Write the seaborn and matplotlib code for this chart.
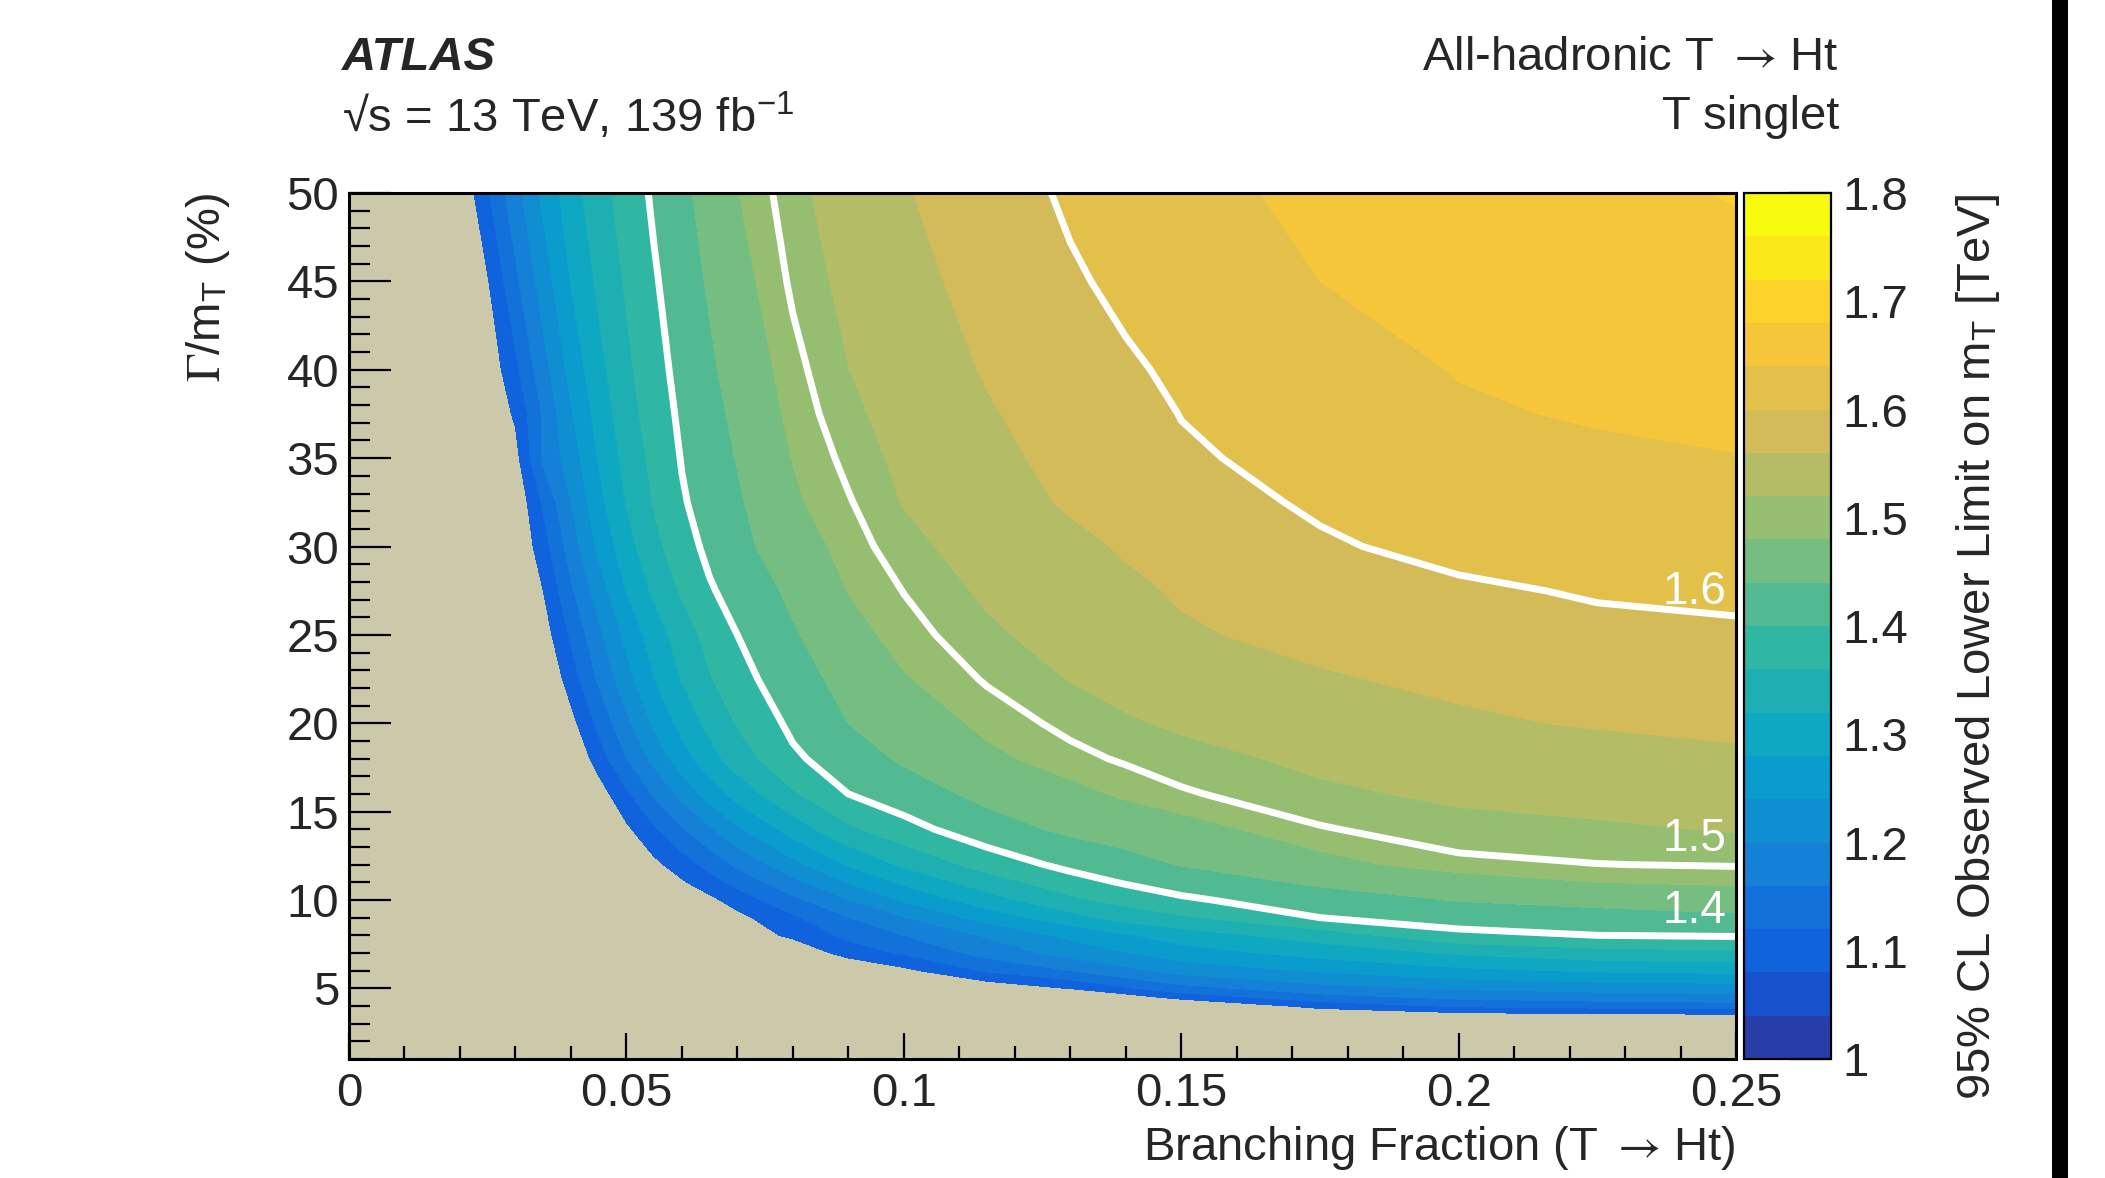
import numpy as np
import matplotlib
matplotlib.use("Agg")
import matplotlib.pyplot as plt
from matplotlib.colors import ListedColormap, BoundaryNorm
from matplotlib.cm import ScalarMappable
from matplotlib.patches import Rectangle
from matplotlib.ticker import MultipleLocator
import seaborn as sns

# Branching fraction (T -> Ht), columns of the limit table
branching = [0.0, 0.02, 0.025, 0.03, 0.035, 0.04, 0.045, 0.05, 0.055, 0.06, 0.065,
             0.07, 0.08, 0.09, 0.10, 0.115, 0.13, 0.14, 0.15, 0.175, 0.20, 0.225, 0.25]

# Gamma / m_T in percent, rows of the limit table
width_pct = [1, 3, 3.5, 4, 4.5, 5, 6, 7, 8, 9, 10, 11, 12, 14, 16, 18, 20,
             22.5, 25, 27.5, 30, 32.5, 35, 37.5, 40, 45, 50]

# 95% CL observed lower limit on m_T [TeV] (one row per width)
limit_tev = [
    [0.70, 0.72, 0.72, 0.73, 0.73, 0.74, 0.74, 0.75, 0.755, 0.76, 0.765, 0.77, 0.78, 0.79, 0.80, 0.82, 0.84, 0.85, 0.86, 0.88, 0.90, 0.91, 0.92],
    [0.70, 0.75, 0.76, 0.77, 0.78, 0.79, 0.80, 0.81, 0.82, 0.83, 0.84, 0.85, 0.87, 0.89, 0.91, 0.93, 0.95, 0.96, 0.97, 0.99, 1.01, 1.02, 1.03],
    [0.72, 0.78, 0.79, 0.80, 0.81, 0.82, 0.83, 0.84, 0.85, 0.86, 0.87, 0.88, 0.90, 0.92, 0.94, 0.96, 0.98, 0.99, 1.00, 1.04, 1.065, 1.072, 1.075],
    [0.74, 0.80, 0.81, 0.82, 0.83, 0.84, 0.85, 0.86, 0.87, 0.88, 0.89, 0.90, 0.92, 0.94, 0.96, 0.98, 1.00, 1.015, 1.03, 1.095, 1.125, 1.135, 1.141],
    [0.76, 0.82, 0.83, 0.84, 0.85, 0.86, 0.87, 0.88, 0.89, 0.90, 0.91, 0.92, 0.94, 0.96, 0.98, 1.00, 1.02, 1.06, 1.095, 1.145, 1.17, 1.18, 1.186],
    [0.78, 0.84, 0.85, 0.86, 0.87, 0.88, 0.89, 0.90, 0.91, 0.92, 0.93, 0.94, 0.96, 0.98, 1.00, 1.05, 1.082, 1.115, 1.145, 1.185, 1.205, 1.215, 1.22],
    [0.80, 0.86, 0.87, 0.88, 0.89, 0.90, 0.91, 0.92, 0.935, 0.95, 0.965, 0.98, 1.01, 1.03, 1.07, 1.125, 1.16, 1.19, 1.215, 1.245, 1.27, 1.285, 1.291],
    [0.82, 0.88, 0.89, 0.90, 0.91, 0.92, 0.93, 0.94, 0.955, 0.97, 0.985, 1.00, 1.04, 1.10, 1.125, 1.175, 1.215, 1.238, 1.262, 1.295, 1.325, 1.345, 1.351],
    [0.84, 0.90, 0.91, 0.92, 0.93, 0.94, 0.95, 0.97, 0.985, 1.00, 1.025, 1.05, 1.09, 1.13, 1.16, 1.205, 1.25, 1.275, 1.30, 1.34, 1.39, 1.40, 1.4035],
    [0.86, 0.92, 0.93, 0.94, 0.95, 0.96, 0.97, 0.99, 1.00, 1.01, 1.04, 1.068, 1.113, 1.159, 1.198, 1.257, 1.305, 1.337, 1.354, 1.40, 1.418, 1.426, 1.433],
    [0.88, 0.94, 0.95, 0.96, 0.97, 0.98, 0.99, 1.00, 1.01, 1.02, 1.07, 1.098, 1.15, 1.199, 1.245, 1.303, 1.352, 1.373, 1.394, 1.421, 1.442, 1.451, 1.46],
    [0.90, 0.96, 0.97, 0.98, 0.99, 1.00, 1.01, 1.03, 1.05, 1.075, 1.103, 1.133, 1.189, 1.242, 1.288, 1.341, 1.383, 1.4036, 1.418, 1.4467, 1.463, 1.48, 1.4847],
    [0.91, 0.98, 0.99, 1.00, 1.01, 1.02, 1.04, 1.05, 1.07, 1.10, 1.134, 1.168, 1.228, 1.284, 1.327, 1.377, 1.4106, 1.427, 1.442, 1.469, 1.494, 1.4995, 1.5017],
    [0.91, 0.99, 1.00, 1.01, 1.02, 1.03, 1.05, 1.072, 1.114, 1.156, 1.195, 1.233, 1.298, 1.352, 1.386, 1.424, 1.4476, 1.4571, 1.4667, 1.498, 1.512, 1.5156, 1.522],
    [0.92, 1.00, 1.01, 1.02, 1.03, 1.04, 1.059, 1.113, 1.165, 1.212, 1.257, 1.296, 1.355, 1.40, 1.422, 1.45, 1.471, 1.4848, 1.497, 1.5153, 1.5248, 1.5314, 1.538],
    [0.92, 1.00, 1.01, 1.02, 1.03, 1.037, 1.10, 1.159, 1.212, 1.263, 1.305, 1.340, 1.393, 1.422, 1.4455, 1.473, 1.493, 1.5033, 1.5117, 1.526, 1.535, 1.545, 1.5545],
    [0.92, 1.00, 1.01, 1.02, 1.03, 1.066, 1.13, 1.19, 1.246, 1.293, 1.332, 1.363, 1.409, 1.44, 1.46, 1.487, 1.5067, 1.517, 1.524, 1.5397, 1.555, 1.563, 1.567],
    [0.92, 1.00, 1.01, 1.02, 1.035, 1.10, 1.166, 1.225, 1.279, 1.322, 1.357, 1.386, 1.424, 1.4525, 1.4775, 1.5026, 1.521, 1.5293, 1.537, 1.557, 1.5664, 1.574, 1.581],
    [0.92, 1.00, 1.01, 1.03, 1.059, 1.126, 1.19, 1.25, 1.30, 1.34, 1.373, 1.40, 1.436, 1.468, 1.491, 1.5147, 1.533, 1.5449, 1.5565, 1.568, 1.58, 1.592, 1.595],
    [0.92, 1.005, 1.015, 1.035, 1.08, 1.153, 1.22, 1.281, 1.328, 1.365, 1.396, 1.4146, 1.448, 1.481, 1.5007, 1.525, 1.5426, 1.5542, 1.563, 1.579, 1.595, 1.603, 1.6067],
    [0.92, 1.01, 1.02, 1.04, 1.103, 1.179, 1.248, 1.305, 1.349, 1.384, 1.4092, 1.4285, 1.463, 1.49, 1.5116, 1.534, 1.552, 1.5631, 1.572, 1.596, 1.609, 1.617, 1.62],
    [0.92, 1.00, 1.02, 1.047, 1.125, 1.20, 1.268, 1.322, 1.363, 1.396, 1.4166, 1.435, 1.475, 1.498, 1.5215, 1.544, 1.564, 1.5738, 1.587, 1.6045, 1.6111, 1.6195, 1.6279],
    [0.92, 1.02, 1.04, 1.066, 1.168, 1.219, 1.283, 1.333, 1.371, 1.402, 1.4222, 1.442, 1.481, 1.506, 1.527, 1.551, 1.570, 1.5811, 1.596, 1.6095, 1.618, 1.634, 1.639],
    [0.92, 1.02, 1.045, 1.086, 1.165, 1.235, 1.296, 1.343, 1.380, 1.407, 1.4276, 1.4487, 1.4877, 1.5136, 1.532, 1.5567, 1.5763, 1.5888, 1.6007, 1.617, 1.636, 1.643, 1.647],
    [0.92, 1.03, 1.05, 1.111, 1.185, 1.253, 1.308, 1.351, 1.386, 1.412, 1.4338, 1.456, 1.493, 1.5195, 1.537, 1.563, 1.583, 1.596, 1.605, 1.625, 1.6415, 1.651, 1.655],
    [0.92, 1.04, 1.077, 1.151, 1.219, 1.281, 1.328, 1.365, 1.396, 1.421, 1.4446, 1.468, 1.504, 1.528, 1.548, 1.573, 1.596, 1.6067, 1.616, 1.64, 1.649, 1.659, 1.668],
    [0.92, 1.044, 1.116, 1.186, 1.25, 1.303, 1.344, 1.378, 1.406, 1.431, 1.455, 1.479, 1.512, 1.536, 1.557, 1.583, 1.605, 1.6156, 1.628, 1.649, 1.66, 1.671, 1.682],
]

# white contour lines and their labels
line_levels = [1.4, 1.5, 1.6]
line_labels = ["1.4", "1.5", "1.6"]

# axis ticks
x_ticks = [0.0, 0.05, 0.10, 0.15, 0.20, 0.25]
x_ticklabels = ["0", "0.05", "0.1", "0.15", "0.2", "0.25"]
y_ticks = [5, 10, 15, 20, 25, 30, 35, 40, 45, 50]
z_ticks = [1.0, 1.1, 1.2, 1.3, 1.4, 1.5, 1.6, 1.7, 1.8]
z_ticklabels = ["1", "1.1", "1.2", "1.3", "1.4", "1.5", "1.6", "1.7", "1.8"]

# ROOT "bird" palette anchor colours
bird_colors = [
    (0.2082, 0.1664, 0.5293), (0.0592, 0.3599, 0.8684), (0.0780, 0.5041, 0.8385),
    (0.0232, 0.6419, 0.7914), (0.1802, 0.7178, 0.6425), (0.5301, 0.7492, 0.4662),
    (0.8186, 0.7328, 0.3499), (0.9956, 0.7862, 0.1968), (0.9764, 0.9832, 0.0539),
]

sns.set_theme(style="ticks")
plt.rcParams["font.family"] = ["Liberation Sans", "DejaVu Sans"]
plt.rcParams["mathtext.fontset"] = "stix"

FS = 34
n_bands = 20
bounds = np.linspace(1.0, 1.8, n_bands + 1)
band_colors = sns.blend_palette(bird_colors, n_colors=n_bands + 1)[1:]
cmap = ListedColormap(band_colors)
norm = BoundaryNorm(bounds, n_bands)

fig = plt.figure(figsize=(21.05, 11.78), dpi=100)
fig.patch.set_facecolor("white")

ax = fig.add_axes([0.1658, 0.1010, 0.6589, 0.7351])
ax.set_facecolor("#ccc8aa")

X = np.array(branching)
Y = np.array(width_pct)
Z = np.array(limit_tev)

# cells below the first coloured band stay beige
ax.contourf(X, Y, Z, levels=bounds[2:], cmap=cmap, norm=norm)
ax.contour(X, Y, Z, levels=line_levels, colors="white", linewidths=5)

label_pos = {"1.6": 27.45, "1.5": 13.45, "1.4": 9.4}
for lab in line_labels:
    ax.text(0.2483, label_pos[lab], lab, color="white", fontsize=FS - 1,
            ha="right", va="center")

ax.set_xlim(0, 0.25)
ax.set_ylim(1, 50)
ax.set_xticks(x_ticks)
ax.set_xticklabels(x_ticklabels)
ax.set_yticks(y_ticks)
ax.xaxis.set_minor_locator(MultipleLocator(0.01))
ax.yaxis.set_minor_locator(MultipleLocator(1))
ax.tick_params(axis="both", which="both", direction="in", color="black",
               width=1.6, labelsize=FS, top=False, right=False)
ax.tick_params(axis="x", which="major", length=19, pad=9)
ax.tick_params(axis="x", which="minor", length=9.5)
ax.tick_params(axis="y", which="major", length=30, pad=7)
ax.tick_params(axis="y", which="minor", length=15)
for sp in ax.spines.values():
    sp.set_color("black")
    sp.set_linewidth(2.2)
ax.grid(False)

# colour scale
cax = fig.add_axes([0.8285, 0.1010, 0.0413, 0.7351])
cb = fig.colorbar(ScalarMappable(norm=norm, cmap=cmap), cax=cax, ticks=z_ticks)
cb.ax.set_yticklabels(z_ticklabels)
cb.minorticks_off()
cax.tick_params(axis="y", direction="in", length=30, width=1.6, color="black",
                labelsize=FS, pad=8, right=True, left=False)
cb.outline.set_edgecolor("black")
cb.outline.set_linewidth(1.6)

# titles and axis labels
arrow = "$\\rightarrow\\,$"
fig.text(0.1625, 0.9508, "ATLAS", fontsize=FS, fontweight="bold", fontstyle="italic",
         ha="left", va="center")
fig.text(0.1625, 0.9007, "\u221as = 13 TeV, 139 fb$^{\\mathregular{-1}}$", fontsize=FS,
         ha="left", va="center")
fig.text(0.8736, 0.9508, "All-hadronic T " + arrow + "Ht", fontsize=FS, ha="right", va="center")
fig.text(0.8736, 0.9007, "T singlet", fontsize=FS, ha="right", va="center")
fig.text(0.8247, 0.0255, "Branching Fraction (T " + arrow + "Ht)", fontsize=FS,
         ha="right", va="center")
fig.text(0.0988, 0.8362, "$\\Gamma$/m$_{\\mathregular{T}}$ (%)", fontsize=FS,
         rotation=90, ha="center", va="top")
fig.text(0.9397, 0.8362, "95% CL Observed Lower Limit on m$_{\\mathregular{T}}$ [TeV]",
         fontsize=FS, rotation=90, ha="center", va="top")

# black frame edge on the right of the canvas
fig.patches.append(Rectangle((2052 / 2105, 0), 16 / 2105, 1, transform=fig.transFigure,
                             facecolor="black", edgecolor="none"))

fig.savefig("out.png", dpi=100, facecolor="white")
